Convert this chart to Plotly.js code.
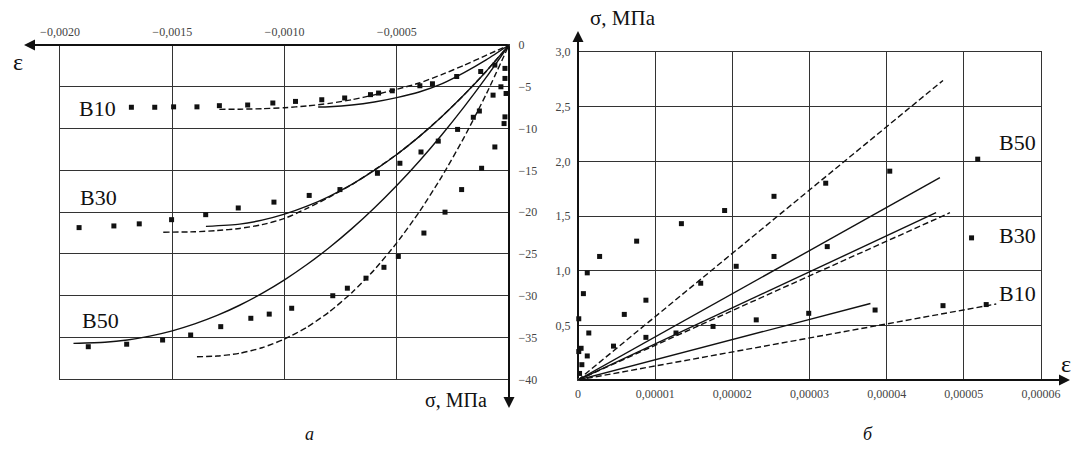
<!DOCTYPE html>
<html><head><meta charset="utf-8">
<script src="https://cdn.plot.ly/plotly-3.0.1.min.js"></script>
<style>html,body{margin:0;padding:0;background:#fff;}#chart{width:1071px;height:461px;}</style>
</head><body><div id="chart"></div>
<script>
// ---------- Panel "а" (left): ε vs σ, MPa ----------
const leftTickVals = [-0.0020, -0.0015, -0.0010, -0.0005];
const leftTickText = ['\u22120,0020', '\u22120,0015', '\u22120,0010', '\u22120,0005'];
const leftSigTickVals = [0, -5, -10, -15, -20, -25, -30, -35, -40];
const leftSigTickText = ['0', '\u22125', '\u221210', '\u221215', '\u221220', '\u221225', '\u221230', '\u221235', '\u221240'];

// measured points
const a_B10_eps = [-0.001682,-0.001578,-0.001494,-0.001390,-0.001290,-0.001164,-0.001052,-0.000951,-0.000834,-0.000732,-0.000617,-0.000581,-0.000520,-0.000397,-0.000341,-0.000233,-0.000126,-0.000063,-0.000018,-0.000018];
const a_B10_sig = [-7.45,-7.45,-7.4,-7.4,-7.26,-7.18,-6.94,-6.75,-6.55,-6.34,-5.94,-5.75,-5.48,-4.88,-4.64,-3.77,-3.17,-2.4,-2.8,-4.0];
const a_B30_eps = [-0.001915,-0.00176,-0.001647,-0.001503,-0.001351,-0.001206,-0.001047,-0.000890,-0.000753,-0.000586,-0.000486,-0.000392,-0.000315,-0.000229,-0.000159,-0.000132,-0.000071,-0.000036,-0.000013];
const a_B30_sig = [-21.85,-21.65,-21.4,-20.9,-20.3,-19.5,-18.8,-18.0,-17.3,-15.35,-14.15,-12.8,-11.5,-10.1,-8.65,-7.9,-6.0,-5.0,-5.8];
const a_B50_eps = [-0.001874,-0.001703,-0.001543,-0.001418,-0.001284,-0.00115,-0.001068,-0.000968,-0.000785,-0.000720,-0.000637,-0.000557,-0.000493,-0.000379,-0.000285,-0.000211,-0.000122,-0.000063,-0.000022,-0.000018];
const a_B50_sig = [-36.1,-35.8,-35.3,-34.7,-33.7,-32.7,-32.2,-31.5,-30.0,-29.1,-27.9,-26.6,-25.3,-22.5,-20.0,-17.3,-14.75,-12.2,-9.4,-8.6];

// curves
const a_B10_dash_eps = [-0.00129,-0.0012,-0.0011,-0.0010,-0.0009,-0.0008,-0.0007,-0.0006,-0.0005,-0.0004,-0.0003,-0.0002,-0.0001,0];
const a_B10_dash_sig = [-7.7,-7.68,-7.62,-7.5,-7.3,-6.98,-6.55,-5.97,-5.3,-4.55,-3.55,-2.42,-1.22,0];
const a_B10_solid_eps = [-0.00085,-0.0008,-0.0007,-0.0006,-0.0005,-0.0004,-0.0003,-0.0002,-0.0001,0];
const a_B10_solid_sig = [-7.42,-7.38,-7.18,-6.82,-6.3,-5.62,-4.65,-3.3,-1.75,0];
const a_B30_solid_eps = [-0.00135,-0.0012,-0.0011,-0.0010,-0.0009,-0.0008,-0.0007,-0.0006,-0.0005,-0.0004,-0.0003,-0.0002,-0.0001,0];
const a_B30_solid_sig = [-21.7,-21.43,-20.96,-20.24,-19.29,-18.1,-16.67,-15.0,-13.1,-10.96,-8.58,-5.96,-3.1,0];
const a_B30_dash_eps = [-0.00154,-0.0014,-0.0013,-0.0012,-0.0011,-0.0010,-0.0009,-0.0008,-0.0007,-0.0006,-0.0005,-0.0004,-0.0003,-0.0002,-0.0001,0];
const a_B30_dash_sig = [-22.4,-22.35,-22.2,-21.95,-21.5,-20.75,-19.55,-18.2,-16.7,-14.95,-13.1,-10.96,-8.58,-5.96,-3.1,0];
const a_B50_solid_eps = [-0.00194,-0.0018,-0.0017,-0.0016,-0.0015,-0.0014,-0.0013,-0.0012,-0.0011,-0.0010,-0.0009,-0.0008,-0.0007,-0.0006,-0.0005,-0.0004,-0.0003,-0.0002,-0.0001,0];
const a_B50_solid_sig = [-35.7,-35.57,-35.29,-34.83,-34.2,-33.37,-32.36,-31.14,-29.72,-28.1,-26.27,-24.23,-21.97,-19.5,-16.81,-13.9,-10.76,-7.4,-3.82,0];
const a_B50_dash_eps = [-0.00139,-0.0013,-0.0012,-0.0011,-0.0010,-0.0009,-0.0008,-0.0007,-0.0006,-0.0005,-0.0004,-0.0003,-0.0002,-0.0001,0];
const a_B50_dash_sig = [-37.3,-37.22,-36.89,-36.22,-35.19,-33.77,-31.92,-29.64,-26.9,-23.68,-19.98,-15.77,-11.05,-5.8,0];

// ---------- Panel "б" (right): σ, MPa vs ε ----------
const rightEpsTickVals = [0, 0.00001, 0.00002, 0.00003, 0.00004, 0.00005, 0.00006];
const rightEpsTickText = ['0', '0,00001', '0,00002', '0,00003', '0,00004', '0,00005', '0,00006'];
const rightSigTickVals = [0.5, 1.0, 1.5, 2.0, 2.5, 3.0];
const rightSigTickText = ['0,5', '1,0', '1,5', '2,0', '2,5', '3,0'];

const b_B50_eps = [0.0000134,0.0000076,0.0000028,0.0000012,0.000019,0.0000254,0.0000321,0.0000404,0.0000518];
const b_B50_sig = [1.43,1.27,1.13,0.98,1.55,1.68,1.80,1.91,2.02];
const b_B30_eps = [0.0000007,0.0000001,0.000006,0.0000088,0.0000159,0.0000205,0.0000254,0.0000323,0.000051];
const b_B30_sig = [0.79,0.56,0.60,0.73,0.885,1.04,1.13,1.22,1.30];
const b_B10_eps = [0.0000014,0.0000004,0.0000001,0.0000012,0.0000005,0.0000002,0.0000046,0.0000088,0.0000127,0.0000175,0.0000231,0.0000299,0.0000385,0.0000473,0.0000529];
const b_B10_sig = [0.43,0.29,0.26,0.22,0.14,0.06,0.31,0.39,0.43,0.49,0.55,0.61,0.64,0.68,0.69];

const b_B50_dash_eps = [0, 0.0000473];  const b_B50_dash_sig = [0, 2.74];
const b_B50_solid_eps = [0, 0.0000469]; const b_B50_solid_sig = [0, 1.85];
const b_B30_solid_eps = [0, 0.0000464]; const b_B30_solid_sig = [0, 1.53];
const b_B30_dash_eps = [0, 0.0000482];  const b_B30_dash_sig = [0, 1.53];
const b_B10_solid_eps = [0, 0.0000379]; const b_B10_solid_sig = [0, 0.70];
const b_B10_dash_eps = [0, 0.0000542];  const b_B10_dash_sig = [0, 0.695];

// ---------- drawing ----------
const W = 1071, H = 461;
const fx = p => p / W, fy = p => 1 - p / H;
const SERIF = 'Liberation Serif, Times New Roman, serif';
const mk = {symbol: 'square', size: 5, color: '#111'};
const DASH = '6px,3px';

function pts(x, y, ax) {
  return {x, y, xaxis: ax[0], yaxis: ax[1], mode: 'markers', type: 'scatter', marker: mk, cliponaxis: false, hoverinfo: 'skip'};
}
function crv(x, y, ax, dashed, spline) {
  return {x, y, xaxis: ax[0], yaxis: ax[1], mode: 'lines', type: 'scatter',
    line: {color: '#111', width: 1.4, dash: dashed ? DASH : 'solid', shape: spline ? 'spline' : 'linear', smoothing: 0.6},
    hoverinfo: 'skip'};
}
const A = ['x', 'y'], B = ['x2', 'y2'];
const data = [
  crv(a_B10_dash_eps, a_B10_dash_sig, A, true, true),
  crv(a_B10_solid_eps, a_B10_solid_sig, A, false, true),
  crv(a_B30_solid_eps, a_B30_solid_sig, A, false, true),
  crv(a_B30_dash_eps, a_B30_dash_sig, A, true, true),
  crv(a_B50_solid_eps, a_B50_solid_sig, A, false, true),
  crv(a_B50_dash_eps, a_B50_dash_sig, A, true, true),
  pts(a_B10_eps, a_B10_sig, A), pts(a_B30_eps, a_B30_sig, A), pts(a_B50_eps, a_B50_sig, A),
  crv(b_B50_dash_eps, b_B50_dash_sig, B, true, false),
  crv(b_B50_solid_eps, b_B50_solid_sig, B, false, false),
  crv(b_B30_solid_eps, b_B30_solid_sig, B, false, false),
  crv(b_B30_dash_eps, b_B30_dash_sig, B, true, false),
  crv(b_B10_solid_eps, b_B10_solid_sig, B, false, false),
  crv(b_B10_dash_eps, b_B10_dash_sig, B, true, false),
  pts(b_B50_eps, b_B50_sig, B), pts(b_B30_eps, b_B30_sig, B), pts(b_B10_eps, b_B10_sig, B)
];

const tickFont = {family: SERIF, size: 12, color: '#444'};
const gridC = '#333';
function ax(extra) {
  return Object.assign({tickfont: tickFont, ticks: '', showgrid: true, gridcolor: gridC, gridwidth: 1,
    zeroline: false, showline: true, mirror: true, linecolor: gridC, linewidth: 1}, extra);
}
const layout = {
  width: W, height: H, margin: {l: 0, r: 0, t: 0, b: 0},
  paper_bgcolor: '#fff', plot_bgcolor: '#fff', showlegend: false,
  font: {family: SERIF, color: '#111'},
  xaxis: ax({domain: [fx(60), fx(509)], range: [-0.0020, 0], side: 'top', anchor: 'y',
    tickvals: leftTickVals, ticktext: leftTickText, ticklabelstandoff: 3}),
  yaxis: ax({domain: [fy(379.3), fy(45)], range: [-40, 0], side: 'right', anchor: 'x',
    tickvals: leftSigTickVals, ticktext: leftSigTickText, ticklabelstandoff: 6}),
  xaxis2: ax({domain: [fx(578), fx(1041)], range: [0, 0.00006], anchor: 'y2',
    tickvals: rightEpsTickVals, ticktext: rightEpsTickText, ticklabelstandoff: 3}),
  yaxis2: ax({domain: [fy(380), fy(52)], range: [0, 3], anchor: 'x2',
    tickvals: rightSigTickVals, ticktext: rightSigTickText, ticklabelstandoff: 4}),
  annotations: []
};

function txt(t, px, py, size, extra) {
  return Object.assign({text: t, xref: 'paper', yref: 'paper', x: fx(px), y: fy(py),
    xanchor: 'left', yanchor: 'middle', showarrow: false,
    font: {family: SERIF, size: size, color: '#111'}}, extra || {});
}
function arrow(hx, hy, axp, ayp) {
  return {text: '', xref: 'paper', yref: 'paper', x: fx(hx), y: fy(hy), axref: 'pixel', ayref: 'pixel',
    ax: axp, ay: ayp, showarrow: true, arrowhead: 2, arrowsize: 1.1, arrowwidth: 2, arrowcolor: '#111',
    startstandoff: 0, standoff: 0};
}
layout.annotations.push(
  arrow(24, 45, 485, 0),
  arrow(509, 408, 0, -363),
  arrow(578, 31, 0, 349),
  arrow(1070, 380, -492, 0),
  txt('B10', 77, 108, 22), txt('B30', 78, 198, 22), txt('B50', 80, 320, 22),
  txt('B50', 997, 142, 22), txt('B30', 997, 235, 22), txt('B10', 997, 293, 22),
  txt('\u03b5', 11, 62, 24),
  txt('\u03c3, \u041c\u041f\u0430', 423, 400, 20),
  txt('\u03c3, \u041c\u041f\u0430', 588, 18, 21),
  txt('\u03b5', 1059, 364, 24),
  txt('<i>а</i>', 303, 434, 18),
  txt('<i>б</i>', 861, 434, 18)
);

Plotly.newPlot('chart', data, layout, {displayModeBar: false, staticPlot: true});
</script></body></html>
